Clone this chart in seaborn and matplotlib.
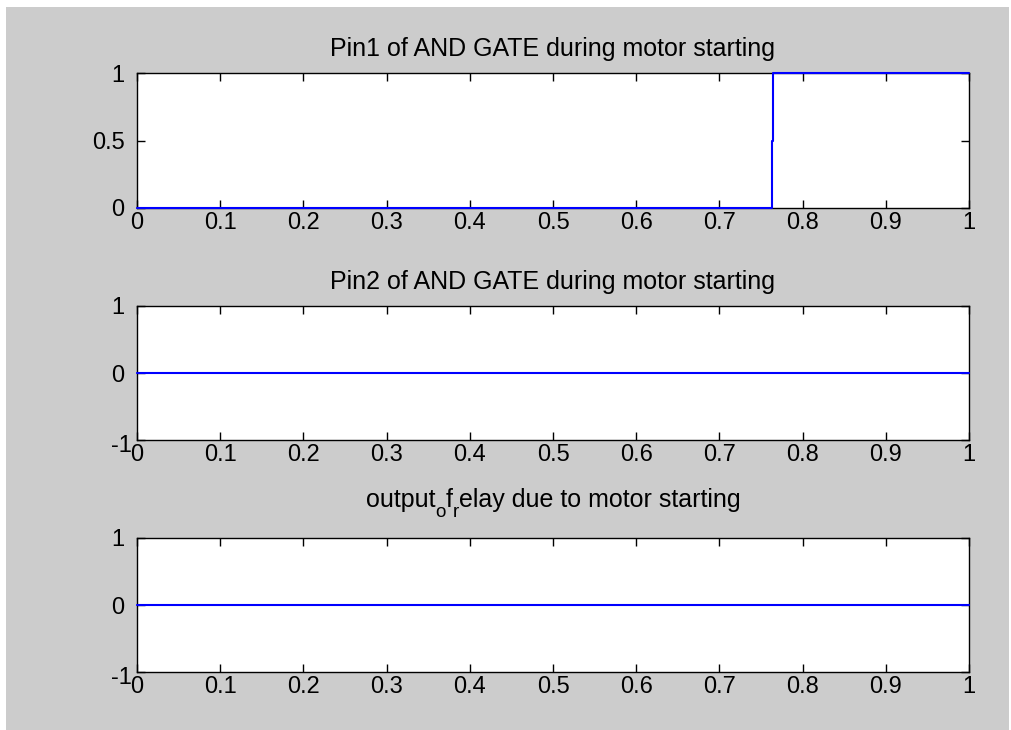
import matplotlib
matplotlib.use("Agg")
import matplotlib.pyplot as plt
import matplotlib.transforms as mtransforms
import seaborn as sns
import pandas as pd
from matplotlib.patches import Rectangle

# ---- data ----
t_pin1 = [0.0, 0.763, 0.763, 0.765, 0.765, 1.0]
pin1 = [0.0, 0.0, 0.5, 0.5, 1.0, 1.0]
t_pin2 = [0.0, 1.0]
pin2 = [0.0, 0.0]
t_out = [0.0, 1.0]
out = [0.0, 0.0]

titles = ["Pin1 of AND GATE during motor starting",
          "Pin2 of AND GATE during motor starting",
          None]
# third title: "output_of_relay" rendered with subscripts (o, r)
title3_parts = [("output", False), ("o", True), ("f", False), ("r", True),
                ("elay due to motor starting", False)]
xticks = [0, 0.1, 0.2, 0.3, 0.4, 0.5, 0.6, 0.7, 0.8, 0.9, 1]
xtick_labels = ["0", "0.1", "0.2", "0.3", "0.4", "0.5", "0.6", "0.7", "0.8", "0.9", "1"]
yticks1 = [0, 0.5, 1]
ytick_labels1 = ["0", "0.5", "1"]
yticks23 = [-1, 0, 1]
ytick_labels23 = ["-1", "0", "1"]

sns.set_style("ticks")
plt.rcParams['font.family'] = ['Liberation Sans', 'DejaVu Sans']

FS_T = 18
FS_K = 17
DPI = 100
fig = plt.figure(figsize=(10.11, 7.30), dpi=DPI)
fig.patch.set_facecolor('#cccccc')
# white margins of the screenshot
fig.patches.append(Rectangle((0, 1 - 7/730), 1, 7/730, transform=fig.transFigure,
                             facecolor='white', edgecolor='none', zorder=-1))
fig.patches.append(Rectangle((0, 0), 6/1011, 1, transform=fig.transFigure,
                             facecolor='white', edgecolor='none', zorder=-1))
fig.patches.append(Rectangle((1 - 2/1011, 0), 2/1011, 1, transform=fig.transFigure,
                             facecolor='white', edgecolor='none', zorder=-1))

left = 137/1011
width = 832/1011
positions = [(left, 1 - 208/730, width, 135/730),
             (left, 1 - 440/730, width, 134/730),
             (left, 1 - 672/730, width, 134/730)]
series = [(t_pin1, pin1), (t_pin2, pin2), (t_out, out)]

axes = []
for i, (pos, (tx, ty), title) in enumerate(zip(positions, series, titles)):
    ax = fig.add_axes(pos)
    ax.set_facecolor('white')
    df = pd.DataFrame({"t": tx, "v": ty})
    sns.lineplot(data=df, x="t", y="v", ax=ax, color='#0000ff', lw=1.5, sort=False,
                 estimator=None)
    for ln in ax.lines:
        ln.set_clip_on(False)
        ln.set_zorder(5)
    ax.set_xlim(0, 1)
    if i == 0:
        ax.set_ylim(0, 1)
        ax.set_yticks(yticks1)
        ax.set_yticklabels(ytick_labels1)
    else:
        ax.set_ylim(-1, 1)
        ax.set_yticks(yticks23)
        ax.set_yticklabels(ytick_labels23)
    ax.set_xticks(xticks)
    ax.set_xticklabels(xtick_labels)
    ax.set_xlabel("")
    ax.set_ylabel("")
    ax.tick_params(direction='in', length=6, width=1, colors='black',
                   labelsize=FS_K, top=True, right=True)
    ax.tick_params(axis='x', pad=3)
    ax.tick_params(axis='y', pad=9)
    for s in ax.spines.values():
        s.set_visible(True)
        s.set_color('black')
        s.set_linewidth(1.0)
    if title is not None:
        ax.set_title(title, fontsize=FS_T, pad=12, color='black')
    if i > 0:
        # MATLAB places the "-1" label slightly right/down of the others
        lbl = ax.get_yticklabels()[0]
        lbl.set_transform(lbl.get_transform() +
                          mtransforms.ScaledTranslation(7/DPI, -3/DPI, fig.dpi_scale_trans))
    axes.append(ax)

# compose third title with subscripts
fig.canvas.draw()
renderer = fig.canvas.get_renderer()
ax3 = axes[2]
bbox = ax3.get_window_extent(renderer)
base_y = bbox.y1 + 31
center_x = (bbox.x0 + bbox.x1) / 2
ident = mtransforms.IdentityTransform()
texts = []
for s, sub in title3_parts:
    t = fig.text(0, 0, s, fontsize=FS_T * (0.75 if sub else 1.0), color='black',
                 transform=ident, ha='left', va='baseline')
    texts.append((t, sub))
widths = [t.get_window_extent(renderer).width for t, _ in texts]
total = sum(widths)
x = center_x - total / 2
for (t, sub), w in zip(texts, widths):
    t.set_position((x, base_y - (10 if sub else 0)))
    x += w

fig.savefig("out.png", dpi=DPI, facecolor=fig.get_facecolor())
